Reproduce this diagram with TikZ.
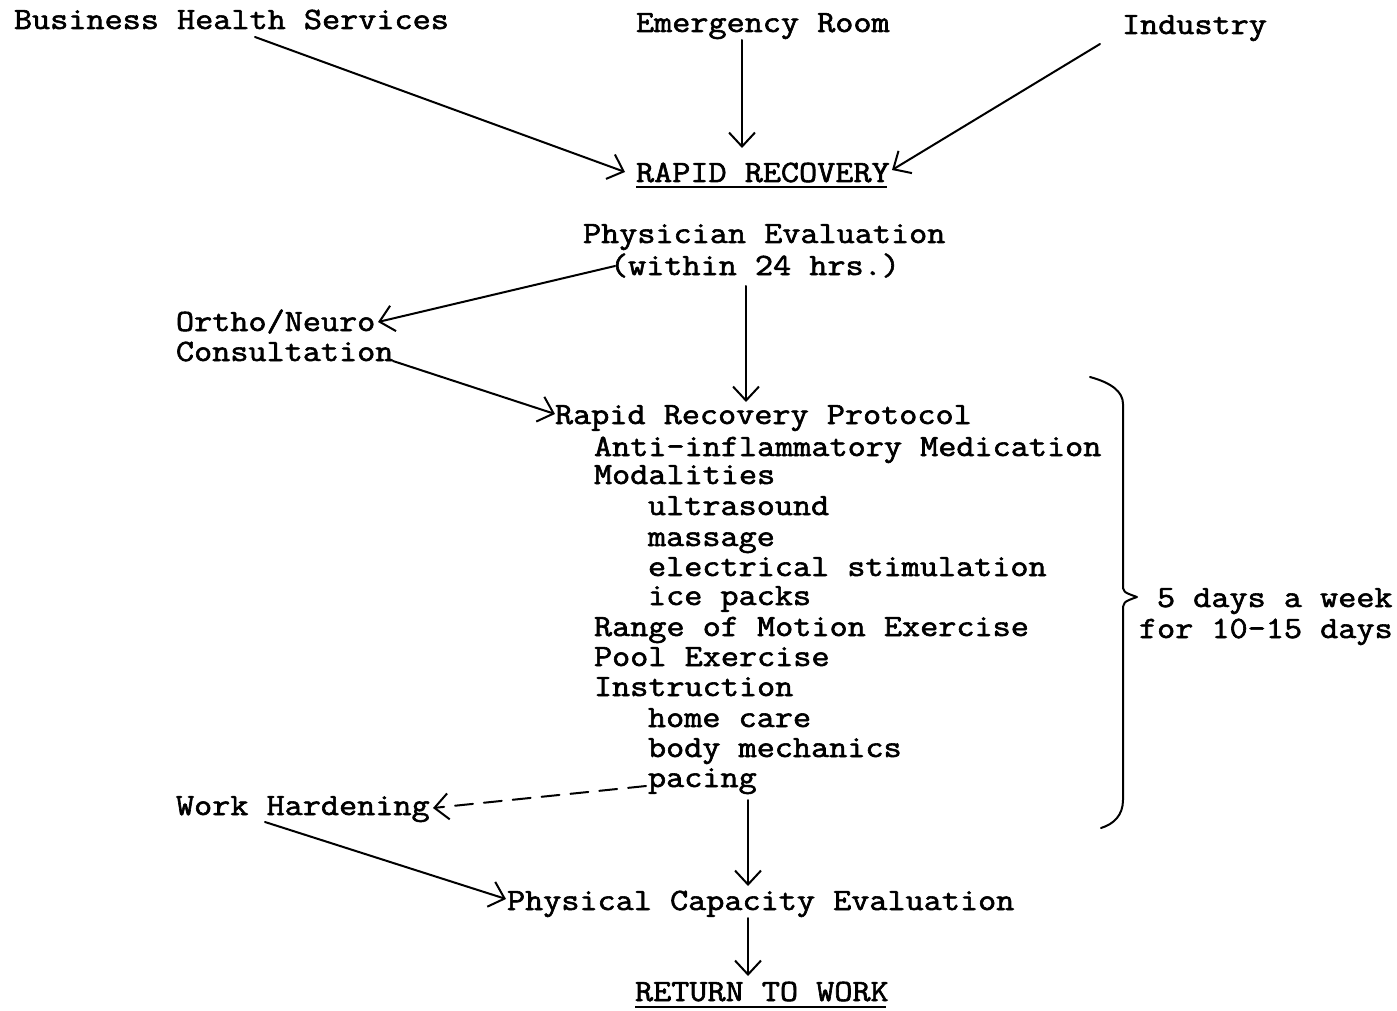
\documentclass[tikz,border=0pt]{standalone}
\usepackage{fontspec}
\newfontfamily\tw{Latin Modern Mono}[FakeBold=1.8]
\newcommand\T[1]{\scalebox{1.135}[1]{#1}}
\usetikzlibrary{arrows.meta}
\begin{document}
\begin{tikzpicture}[x=1pt,y=-1pt,
  txt/.style={anchor=base west,inner sep=0pt,outer sep=0pt,text height=19pt,text depth=6pt,font=\tw\fontsize{31}{30.2}\selectfont},
  conn/.style={line width=2pt,line cap=round,-{Straight Barb[length=14pt,width=26pt,line width=2pt]}},
  dconn/.style={conn,dash pattern=on 18pt off 11pt},
  uline/.style={line width=2pt}]
\useasboundingbox (0,0) rectangle (1397,1011);
% top sources
\node[txt] (bhs) at (14,29) {\T{Business Health Services}};
\node[txt] (er) at (636,32) {\T{Emergency Room}};
\node[txt] (ind) at (1122,34) {\T{Industry}};
\node[txt] (rr) at (636,182) {\T{RAPID RECOVERY}};
\draw[uline] (rr.base west)++(0,5) coordinate (rru1) -- ++(251,0) coordinate (rru2);
\node[txt] (pe) at (583,243) {\T{Physician Evaluation}};
\node[txt] (pe2) at (610,275) {\T{(within 24 hrs.)}};
\node[txt] (on) at (176,331) {\T{Ortho/Neuro}};
\node[txt] (cons) at (176,361) {\T{Consultation}};
% protocol
\node[txt] (rrp) at (555,424) {\T{Rapid Recovery Protocol}};
\node[txt] (p1) at (594,456) {\T{Anti-inflammatory Medication}};
\node[txt] (p2) at (594,484) {\T{Modalities}};
\node[txt] (p3) at (648,515) {\T{ultrasound}};
\node[txt] (p4) at (648,546) {\T{massage}};
\node[txt] (p5) at (648,576) {\T{electrical stimulation}};
\node[txt] (p6) at (648,605) {\T{ice packs}};
\node[txt] (p7) at (594,636) {\T{Range of Motion Exercise}};
\node[txt] (p8) at (594,666) {\T{Pool Exercise}};
\node[txt] (p9) at (594,696) {\T{Instruction}};
\node[txt] (p10) at (648,727) {\T{home care}};
\node[txt] (p11) at (648,757) {\T{body mechanics}};
\node[txt] (p12) at (648,787) {\T{pacing}};
\node[txt] (wh) at (176,815) {\T{Work Hardening}};
\node[txt] (pce) at (507,910) {\T{Physical Capacity Evaluation}};
\node[txt] (rtw) at (635,1001) {\T{RETURN TO WORK}};
\draw[uline] (rtw.base west)++(0,6) coordinate (rtwu1) -- ++(251,0) coordinate (rtwu2);
\node[txt] (d1) at (1157,607) {\T{5 days a week}};
\node[txt] (d2) at (1139,638) {\T{for 10-15 days}};
% brace
\draw[line width=2pt,line cap=round,line join=round]
  (1090,377) .. controls (1112,383) and (1123,392) .. (1123,404)
  -- (1123,584) .. controls (1123,592) .. (1137,597)
  .. controls (1123,602) .. (1123,612)
  -- (1123,800) .. controls (1123,815) and (1114,824) .. (1101,828);
% connector endpoints
\coordinate (bhsA) at (255,37);
\coordinate (bhsB) at (625,172);
\coordinate (erA) at (742,40);
\coordinate (erB) at (742,148);
\coordinate (indA) at (1100,44);
\coordinate (indB) at (892,170);
\coordinate (peA) at (615,266);
\coordinate (peB) at (378,322);
\coordinate (peC) at (746,286);
\coordinate (peD) at (746,402);
\coordinate (consA) at (393,361);
\coordinate (consB) at (555,414);
\coordinate (pacA) at (646,786);
\coordinate (pacB) at (433,808);
\coordinate (protA) at (748,800);
\coordinate (protB) at (748,886);
\coordinate (whA) at (265,822);
\coordinate (whB) at (506,899);
\coordinate (pceA) at (748,918);
\coordinate (pceB) at (748,976);
\draw[conn] (bhsA) -- (bhsB);
\draw[conn] (erA) -- (erB);
\draw[conn] (indA) -- (indB);
\draw[conn] (peA) -- (peB);
\draw[conn] (peC) -- (peD);
\draw[conn] (consA) -- (consB);
\draw[dconn] (pacA) -- (pacB);
\draw[conn] (protA) -- (protB);
\draw[conn] (whA) -- (whB);
\draw[conn] (pceA) -- (pceB);
\end{tikzpicture}
\end{document}
